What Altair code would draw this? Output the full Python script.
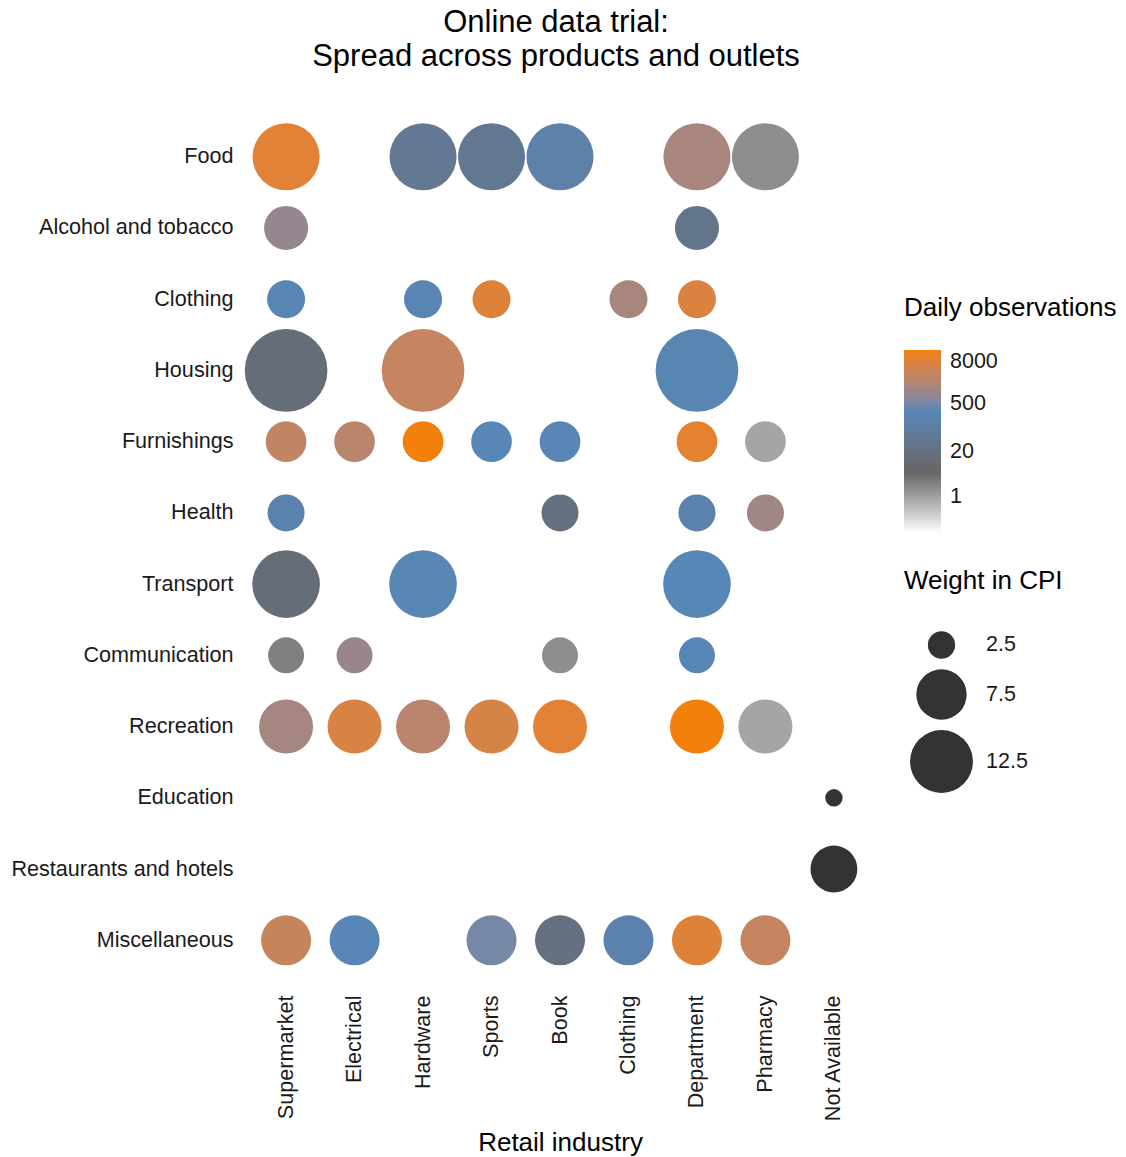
import altair as alt
import pandas as pd
import numpy as np

industries = ["Supermarket", "Electrical", "Hardware", "Sports", "Book",
              "Clothing", "Department", "Pharmacy", "Not Available"]
products = ["Food", "Alcohol and tobacco", "Clothing", "Housing", "Furnishings",
            "Health", "Transport", "Communication", "Recreation", "Education",
            "Restaurants and hotels", "Miscellaneous"]

# Weight in CPI for each product group (row)
weights = [14.5, 5.6, 4.15, 23.6, 4.75, 3.95, 14.8, 3.75, 8.8, 2.0, 6.4, 7.4]

NA = "NA"
# Daily observations per retail industry (same order as `industries`)
food          = [9500, None, 50, 45, 140, None, 1600, 1.7, None]
alcohol       = [950, None, None, None, None, None, 33, None, None]
clothing      = [250, None, 250, 9000, None, 1600, 7500, None, None]
housing       = [13, None, 3500, None, None, None, 230, None, None]
furnishings   = [3200, 2500, 17800, 280, 280, None, 11000, 0.9, None]
health        = [170, None, None, None, 20, None, 170, 1250, None]
transport     = [13, None, 260, None, None, None, 290, None, None]
communication = [2.5, 1050, None, None, 1.7, None, 290, None, None]
recreation    = [1450, 7000, 2500, 6500, 9500, None, 17800, 0.9, None]
education     = [None, None, None, None, None, None, None, None, NA]
restaurants   = [None, None, None, None, None, None, None, None, NA]
miscellaneous = [3800, 310, None, 500, 20, 170, 9000, 3500, None]

rows = [food, alcohol, clothing, housing, furnishings, health, transport,
        communication, recreation, education, restaurants, miscellaneous]

obs_rec, na_rec = [], []
for p, w, vals in zip(products, weights, rows):
    for ind, v in zip(industries, vals):
        if v is None:
            continue
        if v == NA:
            na_rec.append({"product": p, "industry": ind, "weight": w})
        else:
            obs_rec.append({"product": p, "industry": ind, "weight": w, "obs": v})
df_obs = pd.DataFrame(obs_rec)
df_na = pd.DataFrame(na_rec)

FONT = "Liberation Sans"
TXT = "#1a1a1a"

# size scale mimicking ggplot's area palette (diameter linear in sqrt of rescaled value)
wmin, wmax = min(weights), max(weights)
d_lo, d_hi = 17.4, 82.7
ts = np.linspace(0, 1, 25) ** 2
size_domain = [float(wmin + t * (wmax - wmin)) for t in ts]
# Vega circle: diameter = sqrt(size)
size_range = [float((d_lo + (d_hi - d_lo) * np.sqrt(t)) ** 2) for t in ts]

size_legend = alt.Legend(
    title="Weight in CPI", values=[2.5, 7.5, 12.5], format=".1f", orient="none",
    legendX=659, legendY=454, titleFontSize=26, titleFont=FONT,
    titleFontWeight="normal", titleColor="black", titlePadding=37, titleLimit=400,
    labelFontSize=21.5, labelFont=FONT, labelColor=TXT, labelLimit=200,
    symbolFillColor="#333333", symbolStrokeWidth=0, symbolOpacity=1,
    symbolType="circle", rowPadding=10, symbolOffset=6, labelOffset=13,
)

size_enc = alt.Size("weight:Q",
                    scale=alt.Scale(domain=size_domain, range=size_range, zero=False),
                    legend=size_legend)

x_enc = alt.X("industry:N",
              scale=alt.Scale(type="point", padding=0.6, domain=industries),
              axis=alt.Axis(title="Retail industry", labelAngle=270, labelPadding=12,
                            titlePadding=8, ticks=False, domain=False, grid=False,
                            labelFontSize=21.6, titleFontSize=26, titleFontWeight="normal",
                            labelColor=TXT, titleColor="black", labelLimit=400,
                            labelFont=FONT, titleFont=FONT))
y_enc = alt.Y("product:N",
              scale=alt.Scale(type="point", padding=0.6, domain=products),
              axis=alt.Axis(title="", labelPadding=12, ticks=False, domain=False,
                            grid=False, labelFontSize=21.6, labelColor=TXT,
                            labelLimit=400, labelFont=FONT))

color_enc = alt.Color(
    "obs:Q",
    scale=alt.Scale(type="log", domain=[0.09, 5.24, 305, 17800],
                    range=["#FFFFFF", "#666666", "#5787B8", "#F2800A"],
                    interpolate="lab"),
    legend=alt.Legend(
        title="Daily observations", values=[1, 20, 500, 8000], format="d",
        orient="none", legendX=659, legendY=181, gradientLength=183,
        gradientThickness=37, gradientStrokeWidth=0, titleFontSize=26,
        titleFont=FONT, titleFontWeight="normal", titleColor="black",
        titlePadding=29, titleLimit=400, labelFontSize=21.5, labelFont=FONT,
        labelColor=TXT, labelOffset=9, labelLimit=200,
    ),
)

points = alt.Chart(df_obs).mark_circle(opacity=1).encode(
    x=x_enc, y=y_enc, size=size_enc, color=color_enc)

na_points = alt.Chart(df_na).mark_circle(opacity=1, color="#333333").encode(
    x=x_enc, y=y_enc, size=size_enc)

chart = alt.layer(points, na_points).properties(
    width=630, height=869,
    title=alt.Title(["Online data trial:", "Spread across products and outlets"],
                    fontSize=31, font=FONT, fontWeight="normal", color="black",
                    anchor="middle", offset=41, lineHeight=34, dx=-4),
    autosize=alt.AutoSizeParams(type="none"),
    padding={"left": 237, "top": 106, "right": 243, "bottom": 174},
).configure_view(strokeWidth=0)

chart.save("out.html", embed_options={"renderer": "svg", "actions": False})
